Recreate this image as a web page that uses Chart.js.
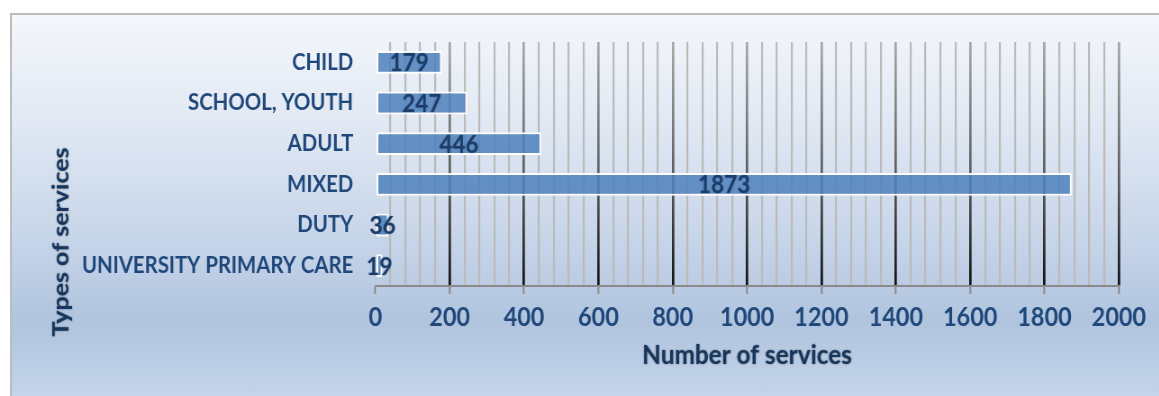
<!DOCTYPE html>
<html>
<head>
<meta charset="utf-8">
<title>Types of services</title>
<script src="https://cdn.jsdelivr.net/npm/chart.js@4.4.1/dist/chart.umd.min.js"></script>
<style>
  html, body { margin: 0; padding: 0; background: #fff; }
  body { width: 1159px; height: 396px; position: relative; overflow: hidden; }
  #frame {
    position: absolute; left: 10px; top: 13px; right: -4px; bottom: -4px;
    border-left: 2px solid #bdbdbd; border-top: 2px solid #bdbdbd;
    background: linear-gradient(to bottom, #f4f7fb 0%, #e3eaf4 25%, #cad7ea 55%, #b0c4de 80%, #c5d5ea 100%);
  }
  /* the chart is laid out wider and squeezed back, giving narrow, tall lettering */
  #wrap { position: absolute; left: 0; top: 0; height: 396px; transform-origin: 0 0; }
</style>
</head>
<body>
<div id="frame"></div>
<div id="wrap"><canvas id="servicesChart"></canvas></div>
<script>
// ---- data ----
const categories = ["CHILD", "SCHOOL, YOUTH", "ADULT", "MIXED", "DUTY", "UNIVERSITY PRIMARY CARE"];
const serviceCounts = [179, 247, 446, 1873, 36, 19];
const axisMax = 2000;
const minorStep = 40;   // light grid every 40
const majorStep = 200;  // labelled grid every 200

const xTitle = "Number of services";
const yTitle = "Types of services";

const textBlue = "#1f477a";
const titleNavy = "#17365d";
const FONT = "Lato, 'Open Sans', sans-serif";

// horizontal squeeze
const SX = 0.9;
const wrap = document.getElementById("wrap");
wrap.style.width = (1159 / SX) + "px";
wrap.style.transform = "scaleX(" + SX + ")";
const px = (v) => v / SX;  // page x distance -> chart units

// dark-at-bottom stroke for the labelled gridlines
function majorLineColor(ctx) {
  const area = ctx.chart.chartArea;
  if (!area) return "#333";
  const g = ctx.chart.ctx.createLinearGradient(0, area.top, 0, area.bottom);
  g.addColorStop(0, "#a8a8a8");
  g.addColorStop(0.6, "#555");
  g.addColorStop(1, "#111");
  return g;
}

// value written in the middle of each bar
const barValues = {
  id: "barValues",
  afterDatasetsDraw(chart) {
    const c = chart.ctx;
    const meta = chart.getDatasetMeta(0);
    c.save();
    c.font = "bold 25px " + FONT;
    c.fillStyle = "#1c3d6a";
    c.textAlign = "center";
    c.textBaseline = "middle";
    c.shadowColor = "rgba(10,30,60,0.35)";
    c.shadowBlur = 1.5;
    meta.data.forEach((bar, i) => {
      const cx = (bar.base + bar.x) / 2;
      c.fillText(String(chart.data.datasets[0].data[i]), cx, bar.y + 1);
    });
    c.restore();
  }
};

// axis titles with a soft dark halo
const axisTitles = {
  id: "axisTitles",
  afterDraw(chart) {
    const c = chart.ctx;
    const area = chart.chartArea;
    c.save();
    c.fillStyle = titleNavy;
    c.textAlign = "center";
    c.textBaseline = "middle";
    c.shadowColor = "rgba(0,0,0,0.5)";
    c.shadowBlur = 2;
    c.font = "bold 27px " + FONT;
    c.fillText(xTitle, (area.left + area.right) / 2, 355);
    c.font = "bold 25px " + FONT;
    c.translate(px(61), 242);
    c.rotate(-Math.PI / 2);
    c.fillText(yTitle, 0, 0);
    c.restore();
  }
};

new Chart(document.getElementById("servicesChart"), {
  type: "bar",
  data: {
    labels: categories,
    datasets: [{
      data: serviceCounts,
      backgroundColor: "rgba(79, 129, 189, 0.86)",
      borderColor: "#ffffff",
      borderWidth: 2,
      borderSkipped: false,
      categoryPercentage: 1,
      barPercentage: 0.56
    }]
  },
  options: {
    indexAxis: "y",
    responsive: true,
    maintainAspectRatio: false,
    animation: false,
    layout: { padding: { left: 0, top: 42, right: px(41), bottom: 0 } },
    plugins: {
      legend: { display: false },
      tooltip: { enabled: false }
    },
    scales: {
      x: {
        type: "linear",
        min: 0,
        max: axisMax,
        afterFit: (s) => { s.height = 110; },
        afterBuildTicks: (s) => {
          const t = [];
          for (let v = 0; v <= axisMax; v += minorStep) t.push({ value: v });
          s.ticks = t;
        },
        ticks: {
          autoSkip: false,
          maxRotation: 0,
          padding: 8,
          color: textBlue,
          font: { family: FONT, size: 26, weight: "bold" },
          callback: (v) => (v % majorStep === 0 ? v : "")
        },
        grid: {
          drawTicks: true,
          tickLength: 8,
          tickWidth: 2,
          lineWidth: (ctx) => (ctx.tick && ctx.tick.value % majorStep === 0 ? 2.7 : 2.2),
          color: (ctx) => {
            if (!ctx.tick) return "transparent";
            if (ctx.tick.value === 0) return "transparent";
            return ctx.tick.value % majorStep === 0 ? majorLineColor(ctx) : "#bababa";
          },
          tickColor: (ctx) => (ctx.tick && ctx.tick.value % majorStep === 0 ? "#8a8a8a" : "transparent")
        },
        border: { display: true, color: "#8a8a8a", width: 2 }
      },
      y: {
        type: "category",
        afterFit: (s) => { s.width = px(375); },
        ticks: {
          padding: px(22),
          color: textBlue,
          font: { family: FONT, size: 22.6, weight: "bold" }
        },
        grid: { display: false, drawTicks: false },
        border: { display: false }
      }
    }
  },
  plugins: [barValues, axisTitles]
});
</script>
</body>
</html>
